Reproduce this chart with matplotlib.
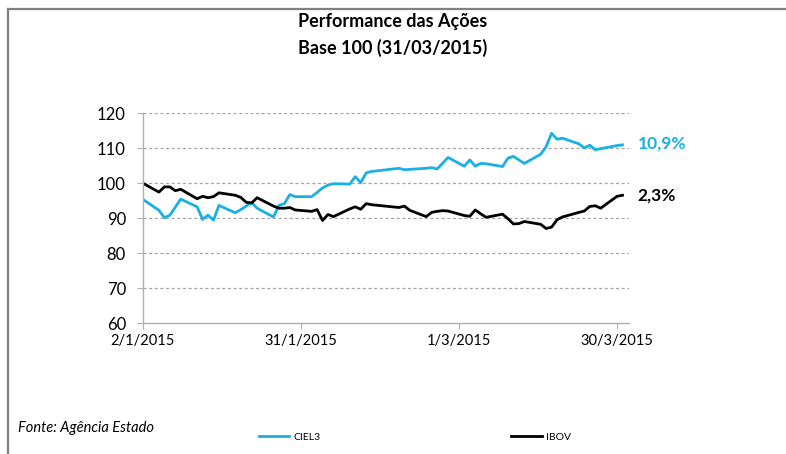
import matplotlib
matplotlib.use('Agg')
import matplotlib.pyplot as plt
import matplotlib.dates as mdates
from matplotlib.lines import Line2D
import pandas as pd
import datetime as dt

plt.rcParams['font.family'] = ['Lato', 'DejaVu Sans']

# trading days of Q1 2015 (B3 closed on carnival monday/tuesday)
dates = pd.bdate_range('2015-01-02', '2015-03-31').drop(pd.to_datetime(['2015-02-16', '2015-02-17']))

ciel3 = [95.4, 92.2, 90.1, 90.8, 93.1, 95.4, 93.2, 89.6, 90.8, 89.4,
         93.6, 91.5, 92.4, 93.4, 94.4, 92.8, 90.3, 93.6, 94.1, 96.7,
         96.1,
         96.1, 97.3, 98.6, 99.4, 99.8, 99.7, 101.8, 100.1, 102.9, 103.3,
         104.2, 103.8, 103.9, 104.2, 104.4, 104.0, 105.6, 107.3,
         104.8, 106.6, 104.8, 105.6, 105.5, 104.7, 107.1, 107.6, 106.6, 105.6,
         108.2, 110.4, 114.2, 112.5, 112.8, 111.2, 110.0, 110.8, 109.5, 109.8,
         110.7, 110.9]
ibov = [100.0, 97.4, 98.9, 98.9, 97.8, 98.2, 95.5, 96.2, 95.8, 96.1,
        97.2, 96.5, 95.9, 94.5, 94.3, 95.8, 93.4, 92.8, 92.8, 93.0,
        92.3,
        91.9, 92.4, 89.3, 91.0, 90.4, 92.6, 93.2, 92.5, 94.1, 93.8,
        93.0, 93.4, 92.2, 90.4, 91.6, 91.9, 92.1, 92.0,
        90.7, 90.5, 92.3, 91.2, 90.2, 91.1, 89.8, 88.3, 88.4, 89.0,
        88.2, 87.0, 87.4, 89.5, 90.3, 91.6, 92.0, 93.3, 93.5, 92.8,
        96.2, 96.5]

end_labels = ['10,9%', '2,3%']
tick_dates = [dt.datetime(2015, 1, 2), dt.datetime(2015, 1, 31),
              dt.datetime(2015, 3, 1), dt.datetime(2015, 3, 30)]

blue = '#1aafe6'

fig = plt.figure(figsize=(7.86, 4.54), dpi=100)
ax = fig.add_axes([0.1814, 0.2885, 0.6189, 0.4626])

ax.plot(dates, ciel3, color=blue, lw=2.0, label='CIEL3', solid_joinstyle='round')
ax.plot(dates, ibov, color='black', lw=2.0, label='IBOV', solid_joinstyle='round')

x0 = mdates.date2num(dt.datetime(2015, 1, 2))
ax.set_xlim(x0, x0 + 89.2)
ax.set_ylim(60, 120)
ax.set_yticks(range(60, 121, 10))
ax.set_xticks(tick_dates)
ax.set_xticklabels([f'{d.day}/{d.month}/{d.year}' for d in tick_dates])

for v in range(70, 121, 10):
    ax.axhline(v, color='#a6a6a6', lw=0.9, ls=(0, (2.5, 2)), zorder=0)

for s in ['top', 'right']:
    ax.spines[s].set_visible(False)
for s in ['left', 'bottom']:
    ax.spines[s].set_color('#b0b0b0')
    ax.spines[s].set_linewidth(1.0)
ax.tick_params(axis='y', length=4, color='#b0b0b0', pad=8, labelsize=12)
ax.tick_params(axis='x', length=4, color='#b0b0b0', pad=4, labelsize=10.5)

# end-of-line labels
ax.annotate(end_labels[0], (dates[-1], ciel3[-1]), xytext=(11, 1), textcoords='offset points',
            color=blue, fontsize=12.5, fontweight='bold', va='center', ha='left')
ax.annotate(end_labels[1], (dates[-1], ibov[-1]), xytext=(11, 0), textcoords='offset points',
            color='black', fontsize=12.5, fontweight='bold', va='center', ha='left')

fig.text(0.5, 1 - 22 / 454, 'Performance das Ações', ha='center', va='center',
         fontsize=13, fontweight='bold')
fig.text(0.5, 1 - 48 / 454, 'Base 100 (31/03/2015)', ha='center', va='center',
         fontsize=13, fontweight='bold')
fig.text(18 / 786, 1 - 428 / 454, 'Fonte: Agência Estado', ha='left', va='center',
         fontsize=10.5, style='italic')

fig.legend(loc='center', bbox_to_anchor=(415 / 786, 1 - 437 / 454), ncol=2, frameon=False,
           fontsize=7.5, handlelength=2.9, handletextpad=0.4, columnspacing=18.3)

# frame of the original picture (top and left edges only)
fig.add_artist(Line2D([7.5 / 786, 1], [1 - 8.5 / 454] * 2, color='#808080', lw=1.6))
fig.add_artist(Line2D([7.5 / 786] * 2, [0, 1 - 8.5 / 454], color='#808080', lw=1.6))

fig.savefig('out.png', dpi=100)
